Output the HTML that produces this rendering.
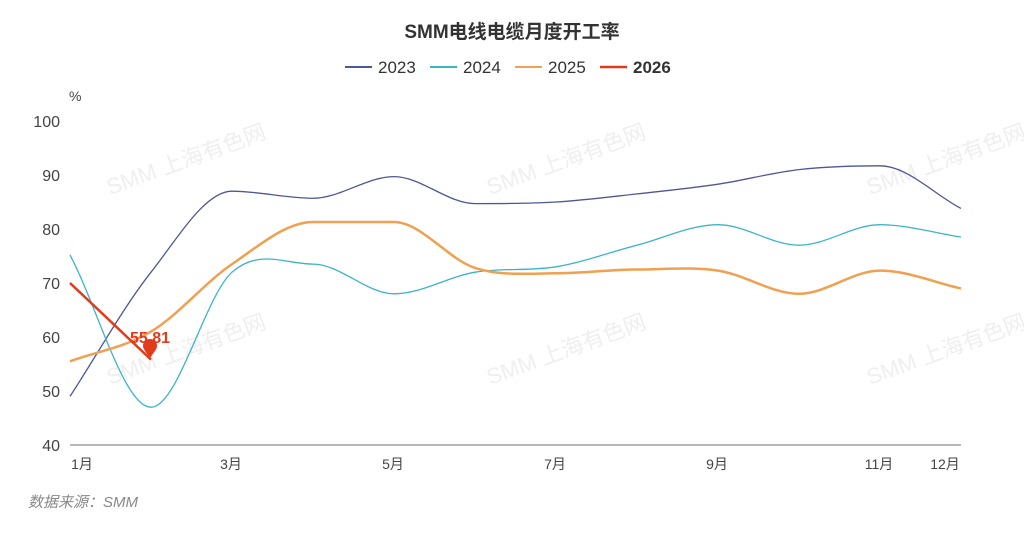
<!DOCTYPE html><html><head><meta charset="utf-8"><style>
body{margin:0;background:#fff;width:1024px;height:529px;overflow:hidden;font-family:"Liberation Sans","Noto Sans CJK SC",sans-serif}
</style></head><body>
<svg id="s" width="1024" height="529" xmlns="http://www.w3.org/2000/svg" font-family="Liberation Sans, Noto Sans CJK SC, sans-serif">
<g fill="#efefef" font-size="22">
<text transform="translate(110,195) rotate(-20)">SMM 上海有色网</text>
<text transform="translate(490,195) rotate(-20)">SMM 上海有色网</text>
<text transform="translate(870,195) rotate(-20)">SMM 上海有色网</text>
<text transform="translate(110,385) rotate(-20)">SMM 上海有色网</text>
<text transform="translate(490,385) rotate(-20)">SMM 上海有色网</text>
<text transform="translate(870,385) rotate(-20)">SMM 上海有色网</text>
</g>
<text x="512" y="38" text-anchor="middle" font-size="19" font-weight="bold" fill="#333">SMM电线电缆月度开工率</text>
<g font-size="17" fill="#333">
<line x1="345" y1="67" x2="372" y2="67" stroke="#4e5797" stroke-width="2"/><text x="378" y="73">2023</text>
<line x1="430" y1="67" x2="457" y2="67" stroke="#3cb4c8" stroke-width="2"/><text x="463" y="73">2024</text>
<line x1="515" y1="67" x2="542" y2="67" stroke="#f0a050" stroke-width="2"/><text x="548" y="73">2025</text>
<line x1="600" y1="67" x2="627" y2="67" stroke="#e23a1a" stroke-width="2.5"/><text x="633" y="73" font-weight="bold">2026</text>
</g>
<text x="69" y="101" font-size="14" fill="#444">%</text>
<g font-size="16" fill="#444" text-anchor="end" id="yl"></g>
<line x1="70" y1="445" x2="961" y2="445" stroke="#6e7079" stroke-width="1"/>
<g font-size="14" fill="#444" text-anchor="middle">
<text x="82" y="469">1月</text><text x="231" y="469">3月</text><text x="393" y="469">5月</text><text x="555" y="469">7月</text><text x="717" y="469">9月</text><text x="879" y="469">11月</text><text x="945" y="469">12月</text>
</g>
<g id="lines" fill="none"></g>
<text x="28" y="507" font-size="15" fill="#888" font-style="italic">数据来源：SMM</text>
</svg>
<script>
var NS="http://www.w3.org/2000/svg";
function X(i){return 70+i*81}function Y(v){return 121+(100-v)*5.4}
var yl=document.getElementById('yl');
for(var v=40;v<=100;v+=10){var t=document.createElementNS(NS,'text');t.setAttribute('x',60);t.setAttribute('y',Y(v)+6);t.textContent=v;yl.appendChild(t);}
function path(d){var p=d.map(function(v,i){return[X(i),Y(v)]});var s='M'+p[0];var n=p.length;
var m=[];for(var i=0;i<n;i++){var a=p[Math.max(i-1,0)],b=p[Math.min(i+1,n-1)];var sl=(b[1]-a[1])/(b[0]-a[0]);
if(i>0&&i<n-1){var d1=p[i][1]-p[i-1][1],d2=p[i+1][1]-p[i][1];if(d1*d2<=0)sl=0;}m.push(sl);}
for(var i=0;i<n-1;i++){var h=(p[i+1][0]-p[i][0])/3;s+='C'+(p[i][0]+h)+','+(p[i][1]+m[i]*h)+' '+(p[i+1][0]-h)+','+(p[i+1][1]-m[i+1]*h)+' '+p[i+1];}return s;}
var L=document.getElementById('lines');
function add(d,c,w,str){var e=document.createElementNS(NS,'path');e.setAttribute('d',str||path(d));e.setAttribute('stroke',c);e.setAttribute('stroke-width',w);L.appendChild(e);}
add([49,72,87,85.7,89.7,84.7,85,86.5,88.3,91,91.7,83.8],'#4e5797',1.3);
add([75.2,47,72,73.5,68,72,73,77,80.8,77,80.8,78.5],'#3cb4c8',1.3);
add([55.5,61,73.5,81.3,81.3,72.8,71.8,72.5,72.3,68,72.3,69],'#f0a050',2.5);
add(null,'#e23a1a',2.5,'M'+X(0)+','+Y(70)+'L'+X(1)+','+Y(55.81));
</script>
<svg style="position:absolute;left:0;top:0" width="1024" height="529">
<path d="M150,358 C146,352 143,349 143,346 A7,7 0 1 1 157,346 C157,349 154,352 150,358Z" fill="#e23a1a"/>
<text x="150" y="343" text-anchor="middle" font-size="16" font-weight="bold" fill="#e23a1a" font-family="Liberation Sans, sans-serif">55.81</text>
</svg>
</body></html>
